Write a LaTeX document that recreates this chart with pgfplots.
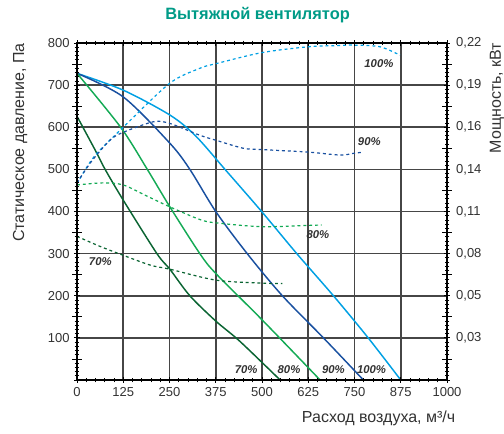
\documentclass[border=0pt]{standalone}
\usepackage{pgfplots}
\pgfplotsset{compat=1.18}
\usepackage{fontspec}
\setmainfont{Liberation Sans}
\definecolor{cA}{RGB}{0,160,227}
\definecolor{cB}{RGB}{25,80,160}
\definecolor{cC}{RGB}{20,170,85}
\definecolor{cD}{RGB}{10,100,50}
\definecolor{cTitle}{RGB}{0,155,135}
\definecolor{txt}{RGB}{50,50,50}
\definecolor{gridc}{RGB}{70,70,70}
\begin{document}
\begin{tikzpicture}
\begin{axis}[
  width=277.5pt, height=252.75pt, scale only axis,
  xmin=0, xmax=1000, ymin=0, ymax=800,
  xtick={0,125,250,375,500,625,750,875,1000},
  xticklabels={0,125,250,375,500,625,750,875,1000},
  ytick={0,100,200,300,400,500,600,700,800},
  yticklabels={,100,200,300,400,500,600,700,800},
  minor x tick num=4, minor y tick num=9,
  extra y ticks={50,150,250,350,450,550,650,750}, extra y tick labels={},
  extra y tick style={major tick length=7pt},
  axis line style={black, line width=1pt},
  tick style={black, line width=0.6pt},
  tick align=center,
  major tick length=4pt, minor tick length=3.5pt,
  ticklabel style={font=\fontsize{9.75}{11}\selectfont, text=txt},
  /pgf/number format/assume math mode=true,
  clip=false,
  axis on top,
  gridline/.style={gridc, line width=1.3pt, no marks, solid, forget plot},
]
% grid
\addplot[gridline] coordinates {(125,0)(125,800)};
\addplot[gridline] coordinates {(250,0)(250,800)};
\addplot[gridline] coordinates {(375,0)(375,800)};
\addplot[gridline] coordinates {(500,0)(500,800)};
\addplot[gridline] coordinates {(625,0)(625,800)};
\addplot[gridline] coordinates {(750,0)(750,800)};
\addplot[gridline] coordinates {(875,0)(875,800)};
\addplot[gridline] coordinates {(0,100)(1000,100)};
\addplot[gridline] coordinates {(0,200)(1000,200)};
\addplot[gridline] coordinates {(0,300)(1000,300)};
\addplot[gridline] coordinates {(0,400)(1000,400)};
\addplot[gridline] coordinates {(0,500)(1000,500)};
\addplot[gridline] coordinates {(0,600)(1000,600)};
\addplot[gridline] coordinates {(0,700)(1000,700)};
% pressure curves
\addplot[cA, line width=1.1pt, smooth, no marks] coordinates {(0,728)(125,688)(251,629)(320,580)(400,500)(499,400)(594,300)(693,200)(787,100)(875,0)};
\addplot[cB, line width=1.1pt, smooth, no marks] coordinates {(0,728)(125,672)(251,562)(305,500)(375,400)(460,300)(555,200)(666,100)(774,0)};
\addplot[cC, line width=1.1pt, smooth, no marks] coordinates {(0,728)(118,600)(190,500)(251,411)(332,300)(375,253)(500,143)(657,0)};
\addplot[cD, line width=1.1pt, smooth, no marks] coordinates {(0,626)(49,546)(76,500)(125,427)(216,300)(251,263)(305,200)(375,140)(440,92)(549,0)};
% power curves
\addplot[cA, line width=0.9pt, smooth, no marks, dash pattern=on 2.2pt off 2.2pt] coordinates {(0,466)(46,530)(125,600)(250,704)(332,740)(376,751)(499,777)(625,791)(711,794)(747,795)(819,791)(873,771)};
\addplot[cB, line width=0.9pt, smooth, no marks, dash pattern=on 2.2pt off 2.2pt] coordinates {(0,468)(40,520)(90,570)(125,588)(206,613)(251,609)(332,581)(376,569)(450,550)(500,547)(625,541)(711,534)(747,538)(774,541)};
\addplot[cC, line width=0.9pt, smooth, no marks, dash pattern=on 2.2pt off 2.2pt] coordinates {(0,463)(71,468)(125,463)(188,437)(251,411)(332,381)(376,373)(499,364)(625,367)(661,368)};
\addplot[cD, line width=0.9pt, smooth, no marks, dash pattern=on 2.2pt off 2.2pt] coordinates {(0,341)(60,318)(116,299)(197,273)(251,263)(376,237)(500,230)(555,229)};
% curve labels
\node[font=\fontsize{8.5}{10}\selectfont\bfseries\itshape, text=txt] at (axis cs:816,752) {100\%};
\node[font=\fontsize{8.5}{10}\selectfont\bfseries\itshape, text=txt] at (axis cs:790,566) {90\%};
\node[font=\fontsize{8.5}{10}\selectfont\bfseries\itshape, text=txt] at (axis cs:651,345) {80\%};
\node[font=\fontsize{8.5}{10}\selectfont\bfseries\itshape, text=txt] at (axis cs:63,280) {70\%};
\node[font=\fontsize{8.5}{10}\selectfont\bfseries\itshape, text=txt] at (axis cs:457,25) {70\%};
\node[font=\fontsize{8.5}{10}\selectfont\bfseries\itshape, text=txt] at (axis cs:573,25) {80\%};
\node[font=\fontsize{8.5}{10}\selectfont\bfseries\itshape, text=txt] at (axis cs:693,25) {90\%};
\node[font=\fontsize{8.5}{10}\selectfont\bfseries\itshape, text=txt] at (axis cs:796,25) {100\%};
% right axis (power) labels
\node[font=\fontsize{9.75}{11}\selectfont, text=txt, anchor=west] at (rel axis cs:1.012,0.125) {0,03};
\node[font=\fontsize{9.75}{11}\selectfont, text=txt, anchor=west] at (rel axis cs:1.012,0.25) {0,05};
\node[font=\fontsize{9.75}{11}\selectfont, text=txt, anchor=west] at (rel axis cs:1.012,0.375) {0,08};
\node[font=\fontsize{9.75}{11}\selectfont, text=txt, anchor=west] at (rel axis cs:1.012,0.5) {0,11};
\node[font=\fontsize{9.75}{11}\selectfont, text=txt, anchor=west] at (rel axis cs:1.012,0.625) {0,14};
\node[font=\fontsize{9.75}{11}\selectfont, text=txt, anchor=west] at (rel axis cs:1.012,0.75) {0,16};
\node[font=\fontsize{9.75}{11}\selectfont, text=txt, anchor=west] at (rel axis cs:1.012,0.875) {0,19};
\node[font=\fontsize{9.75}{11}\selectfont, text=txt, anchor=west] at (rel axis cs:1.012,1.0) {0,22};
% titles
\node[font=\fontsize{12.3}{14}\selectfont\bfseries, text=cTitle] at (rel axis cs:0.488,1.0816) {Вытяжной вентилятор};
\node[font=\fontsize{12}{14}\selectfont, text=txt, anchor=east] at (rel axis cs:1.035,-0.1128) {Расход воздуха, м³/ч};
\node[font=\fontsize{12}{14}\selectfont, text=txt, rotate=90] at (rel axis cs:-0.154,0.7047) {Статическое давление, Па};
\node[font=\fontsize{12}{14}\selectfont, text=txt, rotate=90] at (rel axis cs:1.135,0.837) {Мощность, кВт};
\coordinate (bbsw) at (rel axis cs:-0.2081,-0.1573);
\coordinate (bbne) at (rel axis cs:1.154,1.1276);
\end{axis}
\pgfresetboundingbox
\path[use as bounding box] (bbsw) rectangle (bbne);
\end{tikzpicture}
\end{document}
